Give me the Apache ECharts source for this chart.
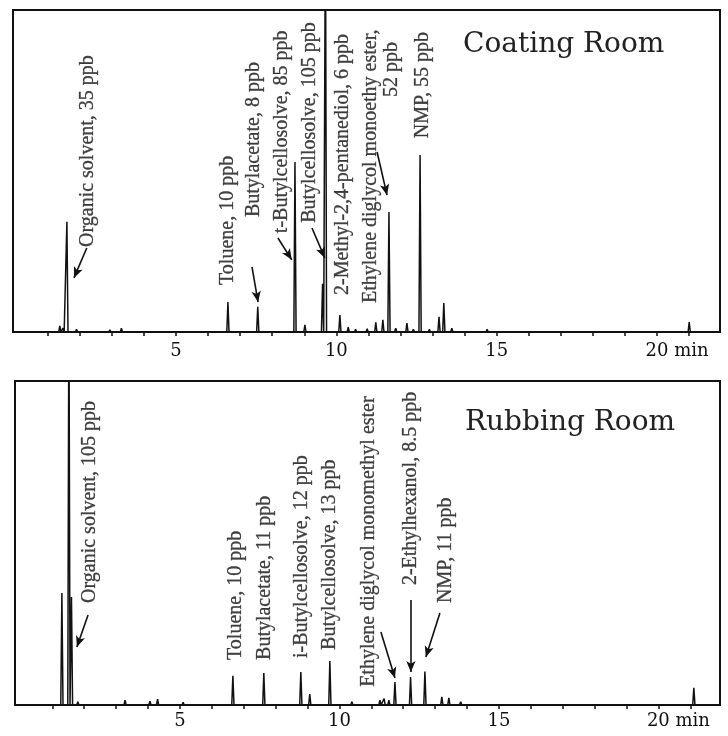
<!DOCTYPE html>
<html><head><meta charset="utf-8">
<script src="https://cdn.jsdelivr.net/npm/echarts@6/dist/echarts.min.js"></script>
<style>html,body{margin:0;padding:0;background:#fff}#c{width:728px;height:736px}</style>
</head><body><div id="c"></div>
<script>
// ---------- data (retention time in min, detector response in % of panel height) ----------
const tickLabels = [5, 10, 15, 20];
const minuteTicks = [1,2,3,4,5,6,7,8,9,10,11,12,13,14,15,16,17,18,19,20,21];

const coatingTimes   = [0.9, 1.38, 1.48, 1.60, 1.9, 2.3, 2.94, 3.3, 4.0, 4.6, 5.0, 5.5, 6.0, 6.62, 7.1, 7.55, 8.1, 8.71, 9.02, 9.57, 9.66, 10.11, 10.37, 10.6, 10.96, 11.23, 11.45, 11.64, 11.85, 12.2, 12.4, 12.61, 12.9, 13.2, 13.35, 13.6, 14.0, 14.3, 14.7, 15.2, 16.4, 17.9, 19.0, 21.0];
const coatingHeights = [0.6, 1.9, 1.2, 34.2, 0.8, 0.5, 0.7, 1.2, 0.5, 0.6, 0.5, 0.5, 0.5, 9.3, 0.5, 7.8, 0.5, 52.8, 2.2, 15.0, 130, 5.3, 1.5, 0.8, 1.0, 3.0, 3.8, 37.3, 1.2, 2.8, 0.8, 55.0, 0.8, 4.7, 9.0, 1.2, 0.6, 0.5, 0.8, 0.6, 0.5, 0.5, 0.4, 3.1];

const rubbingTimes   = [1.30, 1.52, 1.60, 1.8, 2.2, 2.9, 3.28, 3.8, 4.06, 4.3, 4.6, 5.1, 5.6, 6.1, 6.66, 7.2, 7.63, 8.2, 8.79, 9.07, 9.70, 10.39, 10.8, 11.27, 11.4, 11.55, 11.74, 11.95, 12.23, 12.45, 12.68, 13.21, 13.43, 13.8, 14.3, 15.0, 15.5, 16.6, 18.0, 19.2, 21.11];
const rubbingHeights = [34.6, 130, 33.3, 1.0, 0.5, 0.6, 1.5, 0.5, 1.2, 1.8, 0.6, 0.8, 0.5, 0.4, 9.0, 0.5, 9.9, 0.5, 10.2, 3.4, 13.6, 1.0, 0.5, 1.5, 2.0, 1.5, 7.1, 0.6, 8.6, 0.5, 10.3, 2.5, 2.2, 1.0, 0.6, 0.5, 0.4, 0.4, 0.4, 0.4, 5.3];

const coatingLabels = ['Organic solvent, 35 ppb', 'Toluene, 10 ppb', 'Butylacetate, 8 ppb', 't-Butylcellosolve, 85 ppb', 'Butylcellosolve, 105 ppb', '2-Methyl-2,4-pentanediol, 6 ppb', 'Ethylene diglycol monoethy ester,', '52 ppb', 'NMP, 55 ppb'];
const rubbingLabels = ['Organic solvent, 105 ppb', 'Toluene, 10 ppb', 'Butylacetate, 11 ppb', 'i-Butylcellosolve, 12 ppb', 'Butylcellosolve, 13 ppb', 'Ethylene diglycol monomethyl ester', '2-Ethylhexanol, 8.5 ppb', 'NMP, 11 ppb'];

// ---------- layout (label anchors & arrows, in axis units) ----------
const coatingLabelPos = [[2.26,26.4],[6.62,14.6],[7.43,35.7],[8.30,30.7],[9.18,33.9],[10.21,11.5],[11.08,9.0],[11.73,73.0],[12.70,60.2]];
const coatingArrows = [[2.22,26.1,1.82,16.8],[7.37,20.2,7.56,9.3],[8.18,29.2,8.61,22.4],[9.24,32.3,9.64,23.0],[11.27,55.9,11.58,42.5]];
const rubbingLabelPos = [[2.18,31.5],[6.76,13.9],[7.66,13.9],[8.82,14.5],[9.70,17.0],[10.92,5.6],[12.24,37.0],[13.34,31.5]];
const rubbingArrows = [[2.12,27.8,1.77,17.9],[11.30,22.5,11.74,8.3],[12.24,32.4,12.24,10.2],[13.15,28.4,12.71,14.8]];

const PEAK_HALF = 0.035;
const INK = '#111';

function trace(times, heights, xmin, xmax) {
  const pts = [[xmin, 0]];
  times.forEach((t, i) => { pts.push([t - PEAK_HALF, 0], [t, heights[i]], [t + PEAK_HALF, 0]); });
  pts.push([xmax, 0]);
  return pts;
}

const ranges = [[-0.08, 21.96], [-0.17, 21.93]];

function xAxis(idx, margin) {
  return {
    type: 'value', gridIndex: idx, min: ranges[idx][0], max: ranges[idx][1],
    axisLine: { show: true, lineStyle: { color: INK, width: 2 } },
    axisTick: { show: true, customValues: minuteTicks, length: 4, lineStyle: { color: INK, width: 1.5 } },
    splitLine: { show: false },
    axisLabel: {
      customValues: tickLabels, margin: margin, color: INK,
      fontFamily: 'DejaVu Serif', fontSize: 18, lineHeight: 18,
      formatter: v => v === 20 ? '{pad|}20 min' : String(v),
      rich: { pad: { width: 40 } }
    }
  };
}
function yAxis(idx) {
  return { type: 'value', gridIndex: idx, min: 0, max: 100, show: false };
}

function notes(idx, labels, pos, arrows) {
  return {
    type: 'scatter', xAxisIndex: idx, yAxisIndex: idx, symbolSize: 1,
    itemStyle: { color: 'rgba(0,0,0,0)' }, silent: true, z: 5,
    data: labels.map((s, i) => ({ name: s, value: pos[i] })),
    label: {
      show: true, formatter: '{b}', position: 'inside', rotate: 90,
      align: 'left', verticalAlign: 'middle', color: INK,
      fontFamily: 'Liberation Serif', fontWeight: 'normal', fontSize: 20,
      textBorderColor: INK, textBorderWidth: 0.3
    },
    markLine: {
      silent: true, symbol: ['none', 'arrow'], symbolSize: [7, 11],
      lineStyle: { color: INK, width: 1.6, type: 'solid' },
      label: { show: false },
      data: arrows.map(a => [{ coord: [a[0], a[1]] }, { coord: [a[2], a[3]] }])
    }
  };
}

const chart = echarts.init(document.getElementById('c'), null, { renderer: 'canvas' });
chart.setOption({
  backgroundColor: '#fff',
  animation: false,
  title: [
    { text: 'Coating Room', left: 463, top: 31, padding: 0,
      textStyle: { fontFamily: 'DejaVu Serif', fontSize: 28, fontWeight: 'normal', color: '#222' } },
    { text: 'Rubbing Room', left: 465, top: 409, padding: 0,
      textStyle: { fontFamily: 'DejaVu Serif', fontSize: 28, fontWeight: 'normal', color: '#222' } }
  ],
  grid: [
    { left: 13, right: 8, top: 10, height: 322, show: true, borderColor: INK, borderWidth: 2, backgroundColor: 'transparent' },
    { left: 15, right: 8, top: 381, height: 324, show: true, borderColor: INK, borderWidth: 2, backgroundColor: 'transparent' }
  ],
  xAxis: [xAxis(0, 10), xAxis(1, 7)],
  yAxis: [yAxis(0), yAxis(1)],
  series: [
    { type: 'line', xAxisIndex: 0, yAxisIndex: 0, data: trace(coatingTimes, coatingHeights, ranges[0][0], ranges[0][1]),
      symbol: 'none', clip: true, lineStyle: { color: INK, width: 1.5 }, silent: true },
    { type: 'line', xAxisIndex: 1, yAxisIndex: 1, data: trace(rubbingTimes, rubbingHeights, ranges[1][0], ranges[1][1]),
      symbol: 'none', clip: true, lineStyle: { color: INK, width: 1.5 }, silent: true },
    notes(0, coatingLabels, coatingLabelPos, coatingArrows),
    notes(1, rubbingLabels, rubbingLabelPos, rubbingArrows)
  ]
});
</script></body></html>
